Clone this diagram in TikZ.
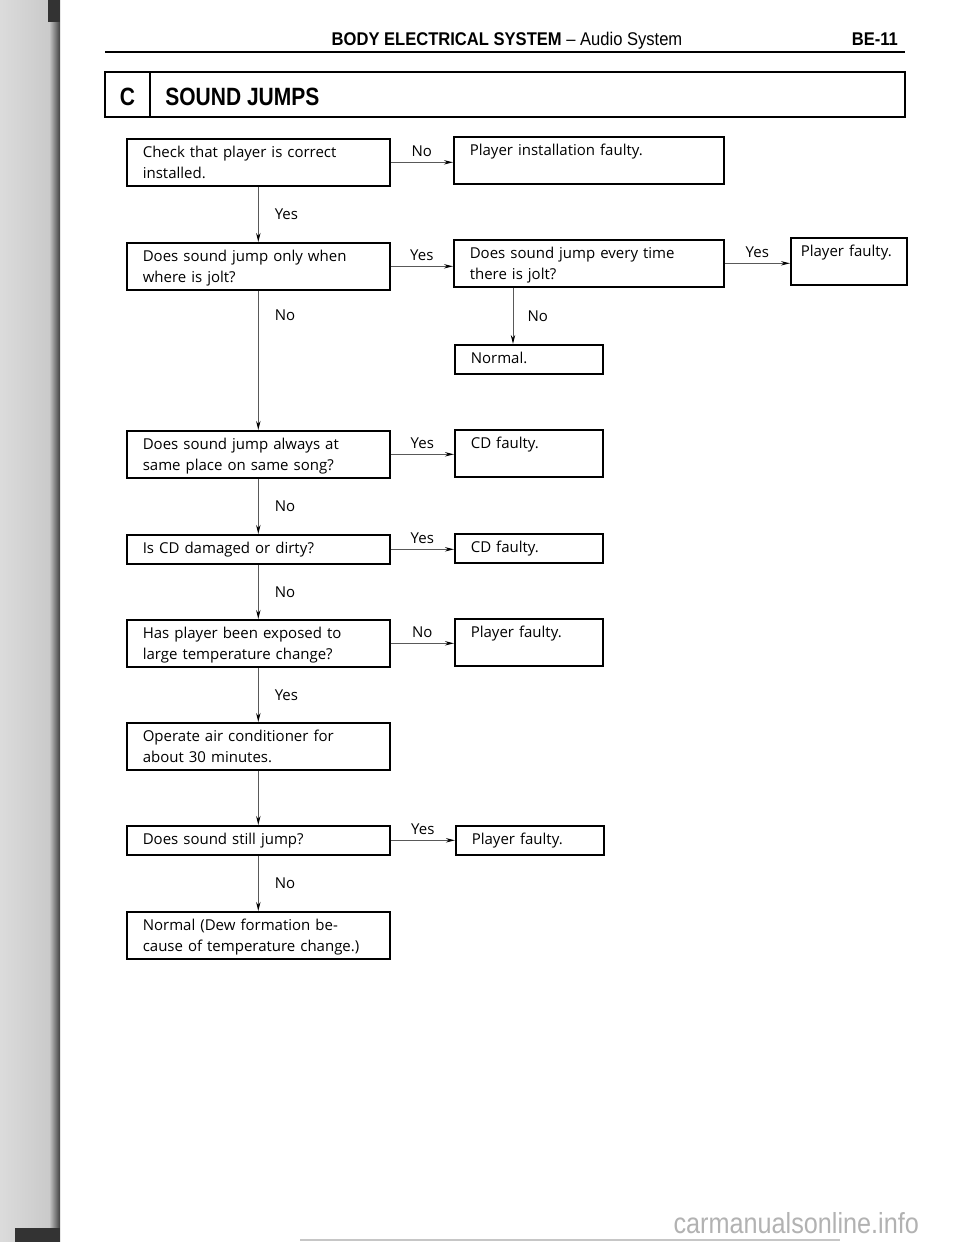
\documentclass[tikz,border=0pt]{standalone}
\usepackage{fontspec}
\usetikzlibrary{arrows.meta}
\newfontfamily\flowfont{Open Sans}
\newfontfamily\headfont[FakeStretch=0.9]{Liberation Sans}
\newfontfamily\titlefont[FakeStretch=0.84]{Liberation Sans}
\newfontfamily\markfont[FakeStretch=0.87]{Liberation Sans}

\begin{document}
\begin{tikzpicture}[x=0.5pt, y=-0.5pt,
    >={Stealth[length=4.5pt, width=2.2pt, color=black]},
    % Styles
    fbox/.style={draw, line width=0.8pt, anchor=north west, inner xsep=8pt, inner ysep=0pt,
                 align=left, text height=9.5pt, font=\flowfont\fontsize{7.5}{10.5}\selectfont},
    tall/.style={text depth=14pt},
    short/.style={text depth=5pt},
    qbox/.style={fbox, text width=115.5pt},
    wbox/.style={fbox, text width=119pt},
    nbox/.style={fbox, text width=58pt},
    sbox/.style={fbox, inner xsep=5pt, text width=48pt},
    arrow/.style={->, line width=0.5pt, draw=gray!70!black},
    lbl/.style={font=\flowfont\fontsize{7.5}{9}\selectfont, inner sep=1pt},
  ]

  \useasboundingbox (0,0) rectangle (960,1242);
  \fill[white] (0,0) rectangle (960,1242);

  % Page edge of the scan
  \fill[left color=gray!28, right color=gray!42] (0,0) rectangle (50,1242);
  \fill[left color=gray!50, right color=black!75] (50,0) rectangle (60,1242);
  \fill[black!80] (48,0) rectangle (60,22);
  \fill[black!80] (15,1228) rectangle (60,1242);
  \draw[gray!45, line width=1pt] (300,1240) -- (840,1240);

  % Header
  \node[font=\headfont\fontsize{9.2}{11}\selectfont, anchor=base] (head) at (507,45)
    {\textbf{BODY ELECTRICAL SYSTEM} – Audio System};
  \node[font=\headfont\fontsize{9.2}{11}\selectfont\bfseries, anchor=base east] (page) at (905,45) {BE-11};
  \draw[line width=1.4pt] (105,52) -- (905,52);

  % Title
  \draw[line width=1pt] (105,72) rectangle (905,117);
  \draw[line width=1pt] (150,72) -- (150,117);
  \node[font=\titlefont\fontsize{12.5}{14}\selectfont\bfseries, anchor=base] (sect) at (127.5,105) {C};
  \node[font=\titlefont\fontsize{12.5}{14}\selectfont\bfseries, anchor=base west, inner xsep=0pt] (title) at (165,105) {SOUND JUMPS};

  % Main column
  \node[qbox, tall] (q1) at (126,138) {Check that player is correct\\installed.};
  \node[qbox, tall] (q2) at (126,242) {Does sound jump only when\\where is jolt?};
  \node[qbox, tall] (q3) at (126,430) {Does sound jump always at\\same place on same song?};
  \node[qbox, short] (q4) at (126,534) {Is CD damaged or dirty?};
  \node[qbox, tall] (q5) at (126,619) {Has player been exposed to\\large temperature change?};
  \node[qbox, tall] (q6) at (126,722) {Operate air conditioner for\\about 30 minutes.};
  \node[qbox, short] (q7) at (126,825) {Does sound still jump?};
  \node[qbox, tall] (q8) at (126,911) {Normal (Dew formation be-\\cause of temperature change.)};

  % Results
  \node[wbox, tall] (r1) at (453,136) {Player installation faulty.};
  \node[wbox, tall] (r2) at (453,239) {Does sound jump every time\\there is jolt?};
  \node[sbox, tall] (r2b) at (790,237) {Player faulty.};
  \node[nbox, short] (r2c) at (454,344) {Normal.};
  \node[nbox, tall] (r3) at (454,429) {CD faulty.};
  \node[nbox, short] (r4) at (454,533) {CD faulty.};
  \node[nbox, tall] (r5) at (454,618) {Player faulty.};
  \node[nbox, short] (r7) at (455,825) {Player faulty.};

  \coordinate (nx) at (513,0);

  % Arrows
  \draw[arrow] (q1.east) -- (q1.east -| r1.west) node[lbl, midway, anchor=base, yshift=3pt] {No};
  \draw[arrow] (q1.south) -- (q2.north) node[lbl, midway, right=7pt] {Yes};
  \draw[arrow] (q2.east) -- (q2.east -| r2.west) node[lbl, midway, anchor=base, yshift=3pt] {Yes};
  \draw[arrow] (r2.east) -- (r2.east -| r2b.west) node[lbl, midway, anchor=base, yshift=3pt] {Yes};
  \draw[arrow] (r2.south -| nx) -- (r2c.north -| nx) node[lbl, midway, right=6pt] {No};
  \draw[arrow] (q2.south) -- (q3.north) node[lbl, pos=0.18, right=7pt] {No};
  \draw[arrow] (q3.east) -- (q3.east -| r3.west) node[lbl, midway, anchor=base, yshift=3pt] {Yes};
  \draw[arrow] (q3.south) -- (q4.north) node[lbl, midway, right=7pt] {No};
  \draw[arrow] (q4.east) -- (q4.east -| r4.west) node[lbl, midway, anchor=base, yshift=3pt] {Yes};
  \draw[arrow] (q4.south) -- (q5.north) node[lbl, midway, right=7pt] {No};
  \draw[arrow] (q5.east) -- (q5.east -| r5.west) node[lbl, midway, anchor=base, yshift=3pt] {No};
  \draw[arrow] (q5.south) -- (q6.north) node[lbl, midway, right=7pt] {Yes};
  \draw[arrow] (q6.south) -- (q7.north);
  \draw[arrow] (q7.east) -- (q7.east -| r7.west) node[lbl, midway, anchor=base, yshift=3pt] {Yes};
  \draw[arrow] (q7.south) -- (q8.north) node[lbl, midway, right=7pt] {No};

  % Watermark
  \node[font=\markfont\fontsize{14.5}{16}\selectfont, text=gray!60, anchor=base east] (mark) at (926,1233) {carmanualsonline.info};

\end{tikzpicture}
\end{document}
